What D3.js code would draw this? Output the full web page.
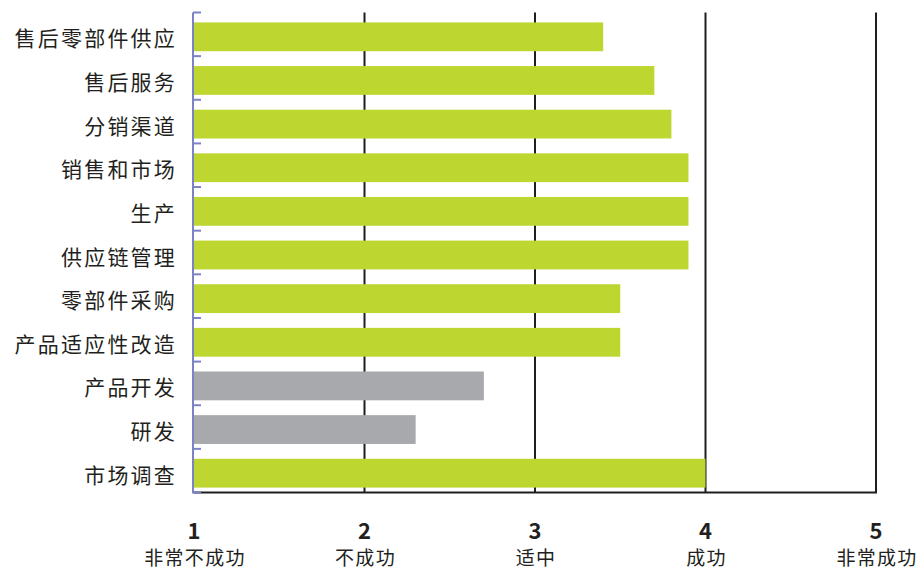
<!DOCTYPE html>
<html>
<head>
<meta charset="utf-8">
<script src="https://cdn.jsdelivr.net/npm/d3@7"></script>
<style>
  body { margin: 0; background: #fff; }
  text { font-family: "Noto Sans CJK SC", "Noto Sans", sans-serif; }
</style>
</head>
<body>
<div id="chart"></div>
<script>
const categories = [
  "售后零部件供应", "售后服务", "分销渠道", "销售和市场", "生产", "供应链管理",
  "零部件采购", "产品适应性改造", "产品开发", "研发", "市场调查"
];
const values = [3.4, 3.7, 3.8, 3.9, 3.9, 3.9, 3.5, 3.5, 2.7, 2.3, 4.0];
const highlight = [true, true, true, true, true, true, true, true, false, false, true];
const tickValues = [1, 2, 3, 4, 5];
const tickLabels = ["非常不成功", "不成功", "适中", "成功", "非常成功"];

const width = 919, height = 570;
const margin = { top: 12.5, right: 43, bottom: 77.5, left: 194 };

const svg = d3.select("#chart").append("svg")
  .attr("width", width)
  .attr("height", height);

const x = d3.scaleLinear()
  .domain([1, 5])
  .range([margin.left, width - margin.right]);

// bars sit slightly below the centre of each band, so shift the range
const y = d3.scaleBand()
  .domain(categories)
  .range([margin.top + 2.5, height - margin.bottom + 2.5])
  .paddingInner(0.34)
  .paddingOuter(0.17);

// vertical gridlines
svg.append("g")
  .selectAll("line")
  .data(tickValues.slice(1))
  .join("line")
  .attr("x1", d => x(d))
  .attr("x2", d => x(d))
  .attr("y1", margin.top)
  .attr("y2", height - margin.bottom)
  .attr("stroke", "#1e1e1e")
  .attr("stroke-width", 2);

// bottom line
svg.append("line")
  .attr("x1", x(1))
  .attr("x2", x(5) + 1)
  .attr("y1", height - margin.bottom)
  .attr("y2", height - margin.bottom)
  .attr("stroke", "#1e1e1e")
  .attr("stroke-width", 2);

// bars
svg.append("g")
  .selectAll("rect")
  .data(categories)
  .join("rect")
  .attr("x", x(1))
  .attr("y", d => y(d))
  .attr("width", (d, i) => x(values[i]) - x(1))
  .attr("height", y.bandwidth())
  .attr("fill", (d, i) => highlight[i] ? "#bdd630" : "#a7a9ac");

// left axis with ticks at band boundaries
const bounds = d3.range(categories.length + 1).map(i => margin.top + i * (height - margin.top - margin.bottom) / categories.length);
const leftAxis = svg.append("g").attr("stroke", "#7c83c4").attr("stroke-width", 2);
leftAxis.append("line")
  .attr("x1", x(1) - 1).attr("x2", x(1) - 1)
  .attr("y1", margin.top).attr("y2", height - margin.bottom + 1);
leftAxis.selectAll("line.tick")
  .data(bounds)
  .join("line")
  .attr("class", "tick")
  .attr("x1", x(1) - 1).attr("x2", x(1) + 7)
  .attr("y1", d => d).attr("y2", d => d);

// category labels
svg.append("g")
  .selectAll("text")
  .data(categories)
  .join("text")
  .attr("x", 177)
  .attr("y", d => y(d) + y.bandwidth() / 2 + 2)
  .attr("dy", "0.36em")
  .attr("text-anchor", "end")
  .attr("font-size", 21)
  .attr("letter-spacing", 2.2)
  .attr("fill", "#231f20")
  .text(d => d);

// x tick labels
const xt = svg.append("g")
  .selectAll("g")
  .data(tickValues)
  .join("g")
  .attr("transform", d => `translate(${x(d)},0)`);
xt.append("text")
  .attr("y", 539)
  .attr("text-anchor", "middle")
  .attr("font-size", 22)
  .attr("font-weight", "bold")
  .attr("font-family", "Liberation Sans, Arial, sans-serif")
  .attr("fill", "#231f20")
  .text(d => d);
xt.append("text")
  .attr("x", 1)
  .attr("y", 565)
  .attr("text-anchor", "middle")
  .attr("font-size", 19)
  .attr("letter-spacing", 1.3)
  .attr("fill", "#231f20")
  .text((d, i) => tickLabels[i]);
</script>
</body>
</html>
